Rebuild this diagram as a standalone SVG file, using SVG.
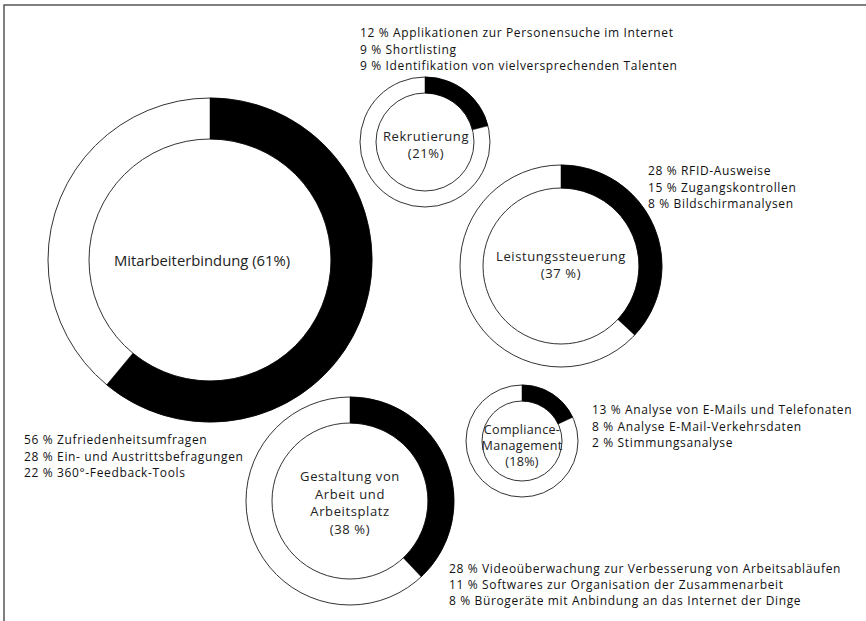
<svg xmlns="http://www.w3.org/2000/svg" width="866" height="621" viewBox="0 0 866 621">
<style>
.ring{fill:none;stroke:#333;stroke-width:1}
.seg{fill:#000;stroke:#000;stroke-width:0.5}
.lbl{font-family:"Open Sans","Noto Sans",sans-serif;font-size:13px;letter-spacing:0.6px;fill:#222;text-anchor:middle}
.sm{font-size:12.6px;letter-spacing:0.3px}
.big{font-size:14.8px;letter-spacing:0}
.lst{font-family:"Open Sans","Noto Sans",sans-serif;font-size:12px;letter-spacing:0.64px;fill:#111}
</style>
<rect x="0" y="0" width="866" height="621" fill="#fff"/>
<path d="M4,621 V5 H866" fill="none" stroke="#555" stroke-width="1.5"/>

<g id="mitarbeiterbindung">
<circle class="ring" cx="210" cy="260" r="162"/>
<circle class="ring" cx="210" cy="260" r="121"/>
<path class="seg" d="M210,98 A162,162 0 1 1 106.7,384.8 L132.9,353.2 A121,121 0 1 0 210,139 Z"/>
<text class="lbl big" x="202" y="266">Mitarbeiterbindung (61%)</text>
<text class="lst" x="24" y="444"><tspan x="24">56 % Zufriedenheitsumfragen</tspan><tspan x="24" dy="16.5">28 % Ein- und Austrittsbefragungen</tspan><tspan x="24" dy="16.5">22 % 360°-Feedback-Tools</tspan></text>
</g>

<g id="rekrutierung">
<circle class="ring" cx="425" cy="142" r="65"/>
<circle class="ring" cx="425" cy="142" r="49"/>
<path class="seg" d="M425,77 A65,65 0 0 1 488,125.8 L472.5,129.8 A49,49 0 0 0 425,93 Z"/>
<text class="lbl" x="426" y="140.6"><tspan x="426">Rekrutierung</tspan><tspan x="426" dy="17.8">(21%)</tspan></text>
<text class="lst" x="360" y="37"><tspan x="360">12 % Applikationen zur Personensuche im Internet</tspan><tspan x="360" dy="16.5">9 % Shortlisting</tspan><tspan x="360" dy="16.5">9 % Identifikation von vielversprechenden Talenten</tspan></text>
</g>

<g id="leistungssteuerung">
<circle class="ring" cx="561" cy="266" r="101"/>
<circle class="ring" cx="561" cy="266" r="78"/>
<path class="seg" d="M561,165 A101,101 0 0 1 634.6,335.1 L617.9,319.4 A78,78 0 0 0 561,188 Z"/>
<text class="lbl" x="561" y="260.6"><tspan x="561">Leistungssteuerung</tspan><tspan x="561" dy="17.8">(37 %)</tspan></text>
<text class="lst" x="648" y="175"><tspan x="648">28 % RFID-Ausweise</tspan><tspan x="648" dy="16.5">15 % Zugangskontrollen</tspan><tspan x="648" dy="16.5">8 % Bildschirmanalysen</tspan></text>
</g>

<g id="compliance">
<circle class="ring" cx="522" cy="441" r="56"/>
<circle class="ring" cx="522" cy="441" r="40"/>
<path class="seg" d="M522,385 A56,56 0 0 1 572.7,417.2 L558.2,424 A40,40 0 0 0 522,401 Z"/>
<text class="lbl sm" x="522" y="434"><tspan x="522">Compliance-</tspan><tspan x="522" dy="16">Management</tspan><tspan x="522" dy="16">(18%)</tspan></text>
<text class="lst" x="592" y="414"><tspan x="592">13 % Analyse von E-Mails und Telefonaten</tspan><tspan x="592" dy="16.5">8 % Analyse E-Mail-Verkehrsdaten</tspan><tspan x="592" dy="16.5">2 % Stimmungsanalyse</tspan></text>
</g>

<g id="gestaltung">
<circle class="ring" cx="350" cy="501" r="104"/>
<circle class="ring" cx="350" cy="501" r="78"/>
<path class="seg" d="M350,397 A104,104 0 0 1 421.2,576.8 L403.4,557.9 A78,78 0 0 0 350,423 Z"/>
<text class="lbl" x="350" y="480.8"><tspan x="350">Gestaltung von</tspan><tspan x="350" dy="17.8">Arbeit und</tspan><tspan x="350" dy="17.8">Arbeitsplatz</tspan><tspan x="350" dy="17.8">(38 %)</tspan></text>
<text class="lst" x="449" y="573"><tspan x="449">28 % Videoüberwachung zur Verbesserung von Arbeitsabläufen</tspan><tspan x="449" dy="16">11 % Softwares zur Organisation der Zusammenarbeit</tspan><tspan x="449" dy="16">8 % Bürogeräte mit Anbindung an das Internet der Dinge</tspan></text>
</g>

<g id="connectors"></g>
</svg>
